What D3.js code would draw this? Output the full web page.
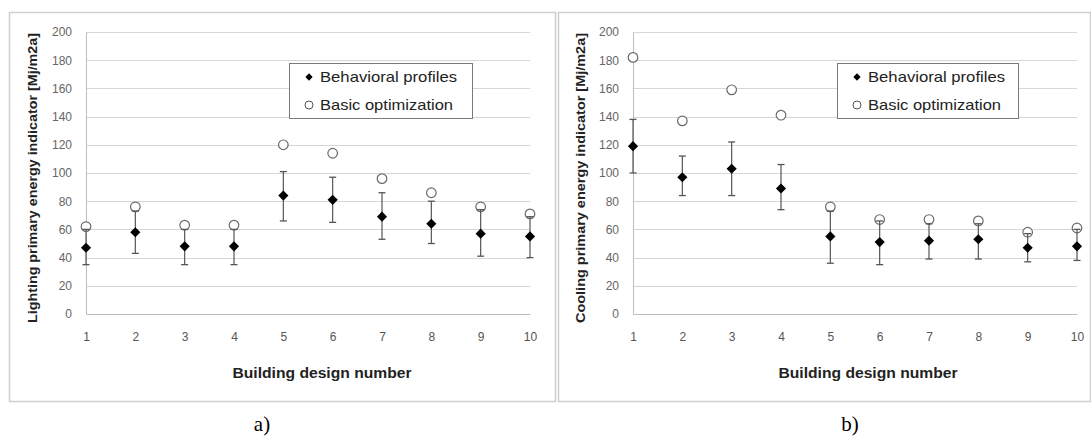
<!doctype html>
<html>
<head>
    <meta charset="UTF-8">
    <title>building design energy</title>
    <script src="https://d3js.org/d3.v7.min.js"></script>
    <style>
        body { margin: 0; background: #fff; }
        svg { display: block; }
    </style>
</head>
<body>
<svg width="1091" height="436"></svg>
<script>
    // data
    var designs = [1, 2, 3, 4, 5, 6, 7, 8, 9, 10];
    var yTicks = [0, 20, 40, 60, 80, 100, 120, 140, 160, 180, 200];
    var legendLabels = ["Behavioral profiles", "Basic optimization"];

    var lightBehav     = [47, 58, 48, 48, 84, 81, 69, 64, 57, 55];
    var lightBehavLow  = [35, 43, 35, 35, 66, 65, 53, 50, 41, 40];
    var lightBehavHigh = [60, 73, 60, 60, 101, 97, 86, 80, 74, 69];
    var lightBasic     = [62, 76, 63, 63, 120, 114, 96, 86, 76, 71];

    var coolBehav     = [119, 97, 103, 89, 55, 51, 52, 53, 47, 48];
    var coolBehavLow  = [100, 84, 84, 74, 36, 35, 39, 39, 37, 38];
    var coolBehavHigh = [138, 112, 122, 106, 73, 66, 64, 64, 57, 60];
    var coolBasic     = [182, 137, 159, 141, 76, 67, 67, 66, 58, 61];

    var svg = d3.select("svg");
    var font = "'Liberation Sans', Arial, sans-serif";

    var panels = [
        { box: [9, 12, 546, 389], left: 86, right: 530, ytitleX: 33, legend: [289, 63, 183, 55],
          ytitle: "Lighting primary energy indicator [Mj/m2a]", xtitleX: 322, caption: "a)", capX: 262,
          behav: lightBehav, low: lightBehavLow, high: lightBehavHigh, basic: lightBasic },
        { box: [558, 12, 532, 389], left: 633, right: 1077, ytitleX: 581, legend: [837, 63, 181, 55],
          ytitle: "Cooling primary energy indicator [Mj/m2a]", xtitleX: 868, caption: "b)", capX: 850,
          behav: coolBehav, low: coolBehavLow, high: coolBehavHigh, basic: coolBasic }
    ];

    var y = d3.scaleLinear().domain([0, 200]).range([314, 32]);
    var diamond = d3.symbol().type(d3.symbolDiamond2);

    panels.forEach(function(p) {
        var g = svg.append("g");
        var x = d3.scalePoint().domain(designs).range([p.left, p.right]).padding(0);

        g.append("rect").attr("x", p.box[0] + 0.5).attr("y", p.box[1] + 0.5)
            .attr("width", p.box[2]).attr("height", p.box[3])
            .attr("fill", "#fff").attr("stroke", "#cfcfcf").attr("stroke-width", 1.5);

        // grid lines
        g.selectAll(".grid").data(yTicks.slice(1)).enter().append("line")
            .attr("x1", p.left).attr("x2", p.right)
            .attr("y1", function(d){ return Math.round(y(d)) + 0.5; })
            .attr("y2", function(d){ return Math.round(y(d)) + 0.5; })
            .attr("stroke", "#d6d6d6").attr("stroke-width", 1);

        // y axis
        var yAxis = d3.axisLeft(y).tickValues(yTicks).tickSize(0).tickPadding(14);
        var ya = g.append("g").attr("transform", "translate(" + p.left + ",0)").call(yAxis);
        ya.select(".domain").attr("stroke", "#bdbdbd");
        ya.selectAll("text").attr("font-family", font).attr("font-size", 12).attr("fill", "#666");

        // x axis
        var xAxis = d3.axisBottom(x).tickSize(0).tickPadding(18);
        var xa = g.append("g").attr("transform", "translate(0," + y(0) + ")").call(xAxis);
        xa.select(".domain").attr("stroke", "#bdbdbd");
        xa.selectAll("text").attr("font-family", font).attr("font-size", 12).attr("fill", "#555");

        // axis titles
        g.append("text").attr("x", p.xtitleX).attr("y", 378)
            .attr("text-anchor", "middle").attr("font-family", font).attr("font-size", 14)
            .attr("font-weight", "bold").attr("fill", "#222")
            .attr("textLength", 179).attr("lengthAdjust", "spacingAndGlyphs")
            .text("Building design number");

        g.append("text")
            .attr("transform", "translate(" + (p.ytitleX + 4) + ",178) rotate(-90)")
            .attr("text-anchor", "middle").attr("font-family", font).attr("font-size", 12)
            .attr("font-weight", "bold").attr("fill", "#222")
            .attr("textLength", 290).attr("lengthAdjust", "spacingAndGlyphs")
            .text(p.ytitle);

        // basic optimization circles
        g.selectAll(".basic").data(p.basic).enter().append("circle")
            .attr("cx", function(d, i){ return x(designs[i]); })
            .attr("cy", function(d){ return y(d); })
            .attr("r", 4.8).attr("fill", "#fff").attr("stroke", "#6a6a6a").attr("stroke-width", 1.2);

        // error bars
        var eb = g.selectAll(".err").data(p.behav).enter().append("g");
        eb.append("line")
            .attr("x1", function(d, i){ return x(designs[i]); })
            .attr("x2", function(d, i){ return x(designs[i]); })
            .attr("y1", function(d, i){ return y(p.low[i]); })
            .attr("y2", function(d, i){ return y(p.high[i]); })
            .attr("stroke", "#555").attr("stroke-width", 1.2);
        [p.low, p.high].forEach(function(arr) {
            eb.append("line")
                .attr("x1", function(d, i){ return x(designs[i]) - 3.5; })
                .attr("x2", function(d, i){ return x(designs[i]) + 3.5; })
                .attr("y1", function(d, i){ return y(arr[i]); })
                .attr("y2", function(d, i){ return y(arr[i]); })
                .attr("stroke", "#555").attr("stroke-width", 1.3);
        });

        // behavioral profiles diamonds
        g.selectAll(".behav").data(p.behav).enter().append("path")
            .attr("d", diamond.size(66))
            .attr("transform", function(d, i){ return "translate(" + x(designs[i]) + "," + y(d) + ")"; })
            .attr("fill", "#000");

        // legend
        var L = p.legend;
        var lg = g.append("g");
        lg.append("rect").attr("x", L[0] + 0.5).attr("y", L[1] + 0.5).attr("width", L[2]).attr("height", L[3])
            .attr("fill", "#fff").attr("stroke", "#7a7a7a").attr("stroke-width", 1);
        lg.append("path").attr("d", d3.symbol().type(d3.symbolDiamond2).size(34)())
            .attr("transform", "translate(" + (L[0] + 20) + "," + (L[1] + 14) + ")").attr("fill", "#000");
        lg.append("circle").attr("cx", L[0] + 20).attr("cy", L[1] + 42).attr("r", 4)
            .attr("fill", "#fff").attr("stroke", "#555").attr("stroke-width", 1);
        var legendWidths = [137, 133];
        legendLabels.forEach(function(t, i) {
            lg.append("text").attr("x", L[0] + 31).attr("y", L[1] + 19 + i * 28)
                .attr("font-family", font).attr("font-size", 15).attr("fill", "#222")
                .attr("textLength", legendWidths[i]).attr("lengthAdjust", "spacingAndGlyphs")
                .text(t);
        });

        // caption
        svg.append("text").attr("x", p.capX).attr("y", 431).attr("text-anchor", "middle")
            .attr("font-family", "'Liberation Serif', 'Times New Roman', serif").attr("font-size", 21)
            .attr("fill", "#000").text(p.caption);
    });
</script>
</body>
</html>
